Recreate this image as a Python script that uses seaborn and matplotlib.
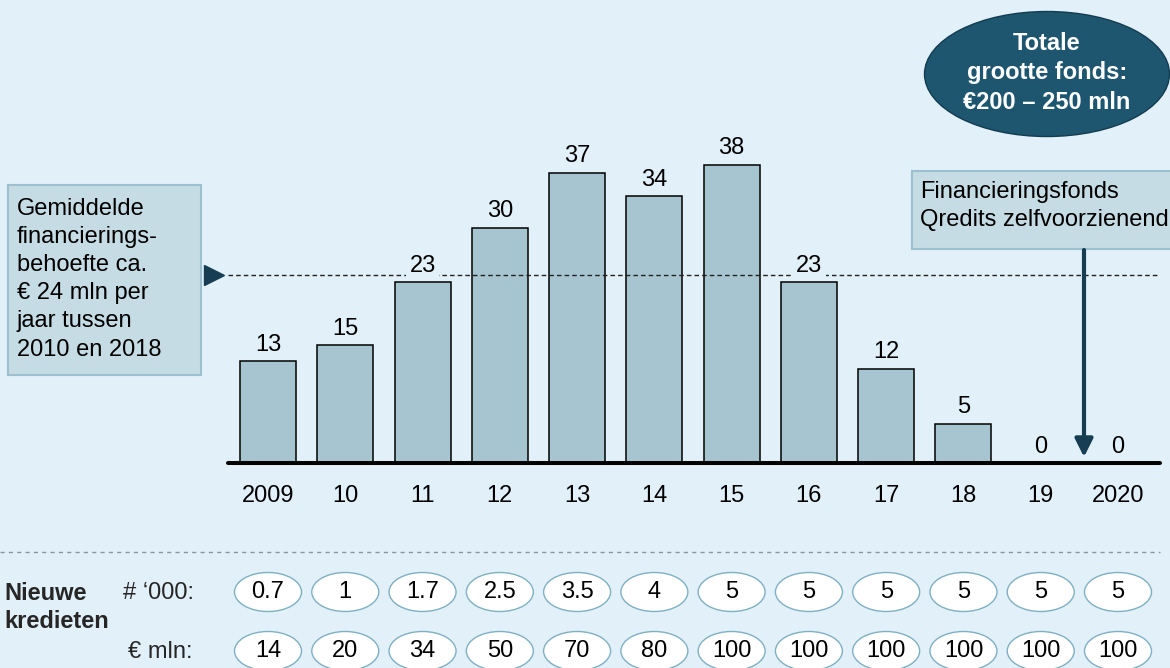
import matplotlib
matplotlib.use("Agg")
import matplotlib.pyplot as plt
import seaborn as sns
import pandas as pd
from matplotlib.patches import Ellipse, Rectangle

# ---- data ----
years = ["2009", "10", "11", "12", "13", "14", "15", "16", "17", "18", "19", "2020"]
need = [13, 15, 23, 30, 37, 34, 38, 23, 12, 5, 0, 0]
average_need = 24
new_count = ["0.7", "1", "1.7", "2.5", "3.5", "4", "5", "5", "5", "5", "5", "5"]
new_amount = ["14", "20", "34", "50", "70", "80", "100", "100", "100", "100", "100", "100"]

W, H = 1170, 668
BG = "#e2f0fa"
BAR = "#a7c5d0"
BOX = "#c6dce4"
BOXEDGE = "#9cc0cd"
NAVY = "#173d52"
FS = 17
LS = 1.36

sns.set_theme(style="white")
plt.rcParams['font.family'] = ['Liberation Sans', 'DejaVu Sans']

fig = plt.figure(figsize=(W / 100, H / 100), dpi=100, facecolor=BG)


def fx(px):
    return px / W


def fy(py):
    return 1 - py / H


left, right, top, base = 228, 1160, 140, 463
step = (1118 - 268) / 11
ppu = 7.85

ax = fig.add_axes([fx(left), fy(base), (right - left) / W, (base - top) / H])
ax.set_facecolor('none')
df = pd.DataFrame({"year": years, "need": need})
sns.barplot(data=df, x="year", y="need", order=years, color=BAR, saturation=1,
            edgecolor="black", linewidth=1.1, width=0.725, ax=ax)
ax.set_xlim(-(268 - left) / step, 11 + (right - 1118) / step)
ax.set_ylim(0, (base - top) / ppu)
for s in ax.spines.values():
    s.set_visible(False)
ax.set_yticks([])
ax.set_xlabel("")
ax.set_ylabel("")
ax.set_xticks(range(len(years)))
ax.set_xticklabels(years, fontsize=FS, color="black")
ax.tick_params(axis='x', length=0, pad=15.5)

# average need dashed line (drawn over bars)
ax.axhline(average_need, color="#222222", lw=1.0, ls=(0, (3.3, 2.2)), zorder=3)
ax.plot([-(268 - left) / step - (228 - 213.5) / step], [average_need], marker='>',
        ms=14, color=NAVY, clip_on=False, mec=NAVY)

# baseline
ax.axhline(0, color="black", lw=2.9, clip_on=False, zorder=5)

# value labels
for i, v in enumerate(need):
    ax.annotate(str(v), (i, v), xytext=(0, 7.5), textcoords='offset points',
                ha='center', va='baseline', fontsize=FS, color='black',
                bbox=dict(boxstyle='square,pad=0.15', fc=BG, ec='none'), zorder=4)

# left box
fig.add_artist(Rectangle((fx(8), fy(375)), (201 - 8) / W, (375 - 185) / H,
                         transform=fig.transFigure, fc=BOX, ec=BOXEDGE, lw=1.5))
fig.text(fx(17), fy(198), "Gemiddelde\nfinancierings-\nbehoefte ca.\n€ 24 mln per\njaar tussen\n2010 en 2018",
         ha='left', va='top', fontsize=FS, color='black', linespacing=LS)

# right box
fig.add_artist(Rectangle((fx(912), fy(249)), (1180 - 912) / W, (249 - 171) / H,
                         transform=fig.transFigure, fc=BOX, ec=BOXEDGE, lw=1.5))
fig.text(fx(920), fy(181), "Financieringsfonds\nQredits zelfvoorzienend",
         ha='left', va='top', fontsize=FS, color='black', linespacing=LS)

# arrow
fig.add_artist(matplotlib.patches.FancyArrowPatch(
    (fx(1084), fy(250)), (fx(1084), fy(457)), transform=fig.transFigure,
    arrowstyle='-|>,head_length=1.0,head_width=0.5', mutation_scale=10.8,
    color=NAVY, lw=3, shrinkA=0, shrinkB=0))

# ellipse top right
fig.add_artist(Ellipse((fx(1047), fy(74)), 245 / W, 125 / H, transform=fig.transFigure,
                       fc="#1e5670", ec="#123c50", lw=1))
fig.text(fx(1047), fy(73), "Totale\ngrootte fonds:\n€200 – 250 mln", ha='center', va='center',
         fontsize=FS, color='white', fontweight='bold', linespacing=LS)

# separator
fig.add_artist(matplotlib.lines.Line2D([0, fx(1160)], [fy(552), fy(552)], transform=fig.transFigure,
                                       color="#8796a0", lw=1, ls=(0, (3, 3))))

# bottom labels
fig.text(fx(4), fy(593), "Nieuwe", ha='left', va='center', fontsize=FS, fontweight='bold')
fig.text(fx(4), fy(622), "kredieten", ha='left', va='center', fontsize=FS, fontweight='bold')
fig.text(fx(123), fy(593), "# ‘000:", ha='left', va='center', fontsize=FS)
fig.text(fx(128), fy(652), "€ mln:", ha='left', va='center', fontsize=FS)

ax2 = fig.add_axes([fx(left), 0, (right - left) / W, (H - 560) / H])
ax2.set_facecolor('none')
ax2.set_xlim(ax.get_xlim())
ax2.set_ylim(H, 560)
ax2.axis('off')
for i, (c, a) in enumerate(zip(new_count, new_amount)):
    for yc, t in ((592, c), (651, a)):
        ax2.add_patch(Ellipse((i, yc), 67 / step, 39, fc='white', ec="#7fb0c2", lw=1))
        ax2.text(i, yc, t, ha='center', va='center', fontsize=FS, color='black')

fig.savefig("out.png", dpi=100, facecolor=BG)
